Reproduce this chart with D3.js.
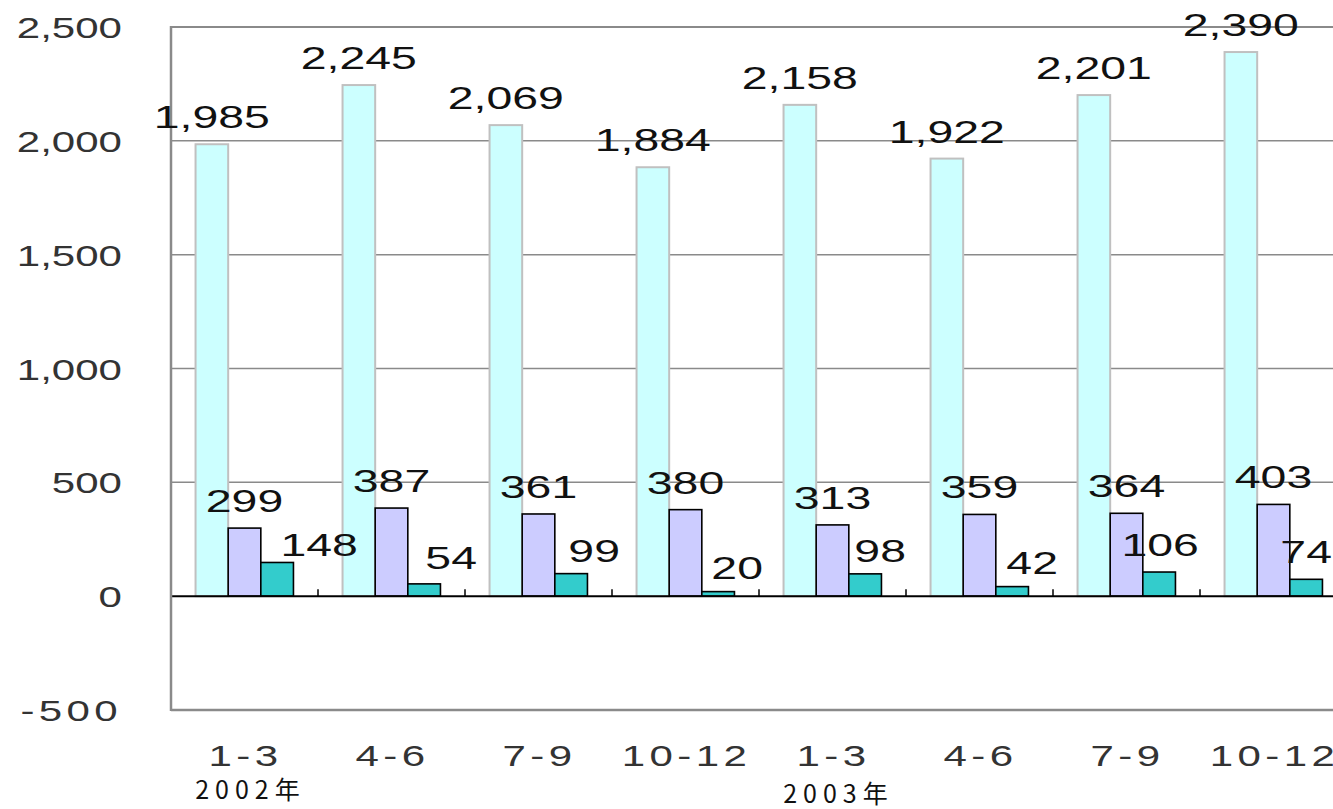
<!DOCTYPE html>
<html><head><meta charset="utf-8">
<script src="https://cdn.jsdelivr.net/npm/d3@7"></script>
<style>html,body{margin:0;padding:0;background:#fff;overflow:hidden}</style>
</head><body>
<svg id="c" width="1333" height="809"></svg>
<script>
const categories = ["1-3","4-6","7-9","10-12","1-3","4-6","7-9","10-12"];
const yearLabels = ["2002年","2003年"];
const seriesA = [1985,2245,2069,1884,2158,1922,2201,2390];
const seriesB = [299,387,361,380,313,359,364,403];
const seriesC = [148,54,99,20,98,42,106,74];
const yTicks = [-500,0,500,1000,1500,2000,2500];
const yTickLabels = ["-500","0","500","1,000","1,500","2,000","2,500"];
// label nudges (px) for the third series, as placed in the original
const seriesCLabelDx = [42,27,23,19,15,20,1,0];
const seriesCLabelDy = [10,1,4,3,4,3,0,0];

(function(){
const svg = d3.select("#c");
const mLeft = 171, mTop = 27, mBottom = 710, catW = 147;
const x0 = d3.scaleBand().domain(d3.range(categories.length)).range([mLeft, mLeft + catW*categories.length]).padding(0);
const keys = ["a","b","c"];
const x1 = d3.scaleBand().domain(keys).range([catW*0.167, catW*0.833]).padding(0);
const y = d3.scaleLinear().domain([-500,2500]).range([mBottom, mTop]);
const SX = 1.45;
const latin = "'Liberation Sans', Arial, sans-serif";

// gridlines
svg.append("g").selectAll("line").data(yTicks.filter(v=>v>0)).join("line")
  .attr("x1", mLeft).attr("x2", 1333).attr("y1", d=>y(d)).attr("y2", d=>y(d))
  .attr("stroke", "#8a8a8a").attr("stroke-width", d=>d===2500?2:1.5);

// bottom border
svg.append("line").attr("x1", mLeft).attr("x2", 1333).attr("y1", y(-500)).attr("y2", y(-500))
  .attr("stroke", "#8a8a8a").attr("stroke-width", 2.5);

// tick labels
svg.append("g").selectAll("text").data(yTicks).join("text")
  .attr("transform", d=>`translate(122,${y(d)+11}) scale(${SX},1)`)
  .attr("text-anchor","end").attr("font-family",latin)
  .attr("font-size", 29).attr("fill","#333")
  .attr("letter-spacing", d=>d<0?3:0)
  .text((d,i)=>yTickLabels[i]);

const data = categories.map((c,i)=>({i, a:seriesA[i], b:seriesB[i], c:seriesC[i]}));
const fills = {a:"#CCFFFF", b:"#CCCCFF", c:"#33CCCC"};
const strokes = {a:"#c0c0c0", b:"#000", c:"#000"};

const groups = svg.append("g").selectAll("g").data(data).join("g")
  .attr("transform", d=>`translate(${x0(d.i)},0)`);
groups.selectAll("rect").data(d=>keys.map(k=>({k, v:d[k]}))).join("rect")
  .attr("x", d=>x1(d.k)).attr("width", x1.bandwidth())
  .attr("y", d=>y(Math.max(0,d.v))).attr("height", d=>Math.abs(y(d.v)-y(0)))
  .attr("fill", d=>fills[d.k]).attr("stroke", d=>strokes[d.k]).attr("stroke-width", d=>d.k==="a"?2:1.6);

// zero line + ticks
svg.append("line").attr("x1", mLeft).attr("x2", 1333).attr("y1", y(0)).attr("y2", y(0))
  .attr("stroke", "#000").attr("stroke-width", 2);
svg.append("g").selectAll("line").data(d3.range(categories.length+1)).join("line")
  .attr("x1", d=>mLeft+catW*d).attr("x2", d=>mLeft+catW*d).attr("y1", y(0)).attr("y2", y(0)-7)
  .attr("stroke", "#000").attr("stroke-width", 1.5);

// left axis
svg.append("line").attr("x1", mLeft).attr("x2", mLeft).attr("y1", mTop-1).attr("y2", mBottom+1)
  .attr("stroke", "#8a8a8a").attr("stroke-width", 2.5);

// data labels (separate layer above all bars)
const fmt = d3.format(",");
const labelData = [];
data.forEach(d=>keys.forEach(k=>labelData.push({i:d.i, k, v:d[k]})));
svg.append("g").selectAll("text").data(labelData).join("text")
  .attr("transform", d=>{
    const dx = d.k==="c" ? seriesCLabelDx[d.i] : 0;
    const dy = d.k==="c" ? seriesCLabelDy[d.i] : 0;
    return `translate(${x0(d.i)+x1(d.k)+x1.bandwidth()/2+dx},${y(d.v)-16+dy}) scale(${SX},1)`;
  })
  .attr("text-anchor","middle").attr("font-family",latin)
  .attr("font-size", 32).attr("fill","#111")
  .text(d=>fmt(d.v));

// category labels
svg.append("g").selectAll("text").data(categories).join("text")
  .attr("transform", (d,i)=>`translate(${x0(i)+catW/2+1},766) scale(${SX},1)`)
  .attr("text-anchor","middle").attr("font-family",latin)
  .attr("font-size", 29).attr("fill","#333").attr("letter-spacing", 3)
  .text(d=>d);

// year labels
svg.append("g").selectAll("text").data(yearLabels).join("text")
  .attr("x", (d,i)=>x0(i*4)+catW/2+6).attr("y", (d,i)=>i===0?799:803)
  .attr("text-anchor","middle").attr("font-family","'Noto Sans CJK JP', sans-serif")
  .attr("font-size", 25).attr("fill","#111").attr("letter-spacing", 6)
  .text(d=>d);
})();
</script>
</body></html>
